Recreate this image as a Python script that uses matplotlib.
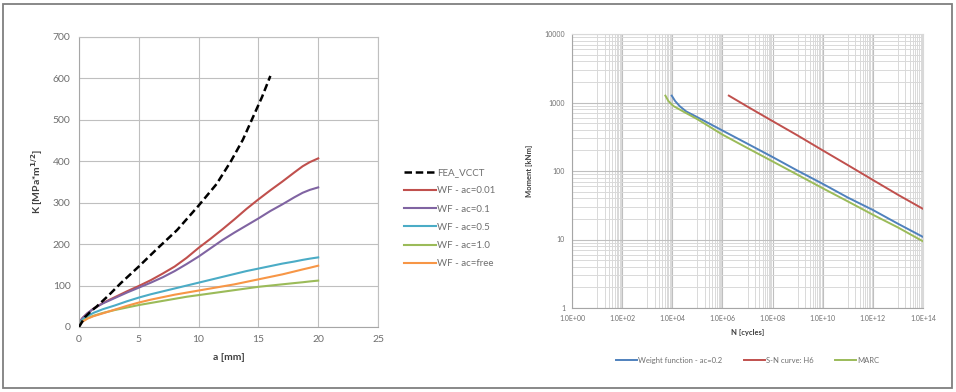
import numpy as np
import matplotlib
matplotlib.use("Agg")
import matplotlib.pyplot as plt
from matplotlib.patches import Rectangle
from matplotlib.ticker import FixedLocator, NullFormatter

plt.rcParams['font.family'] = ['Lato', 'DejaVu Sans']

# ---------------- Left chart data ----------------
fea_a = [0, 0.5, 1.0, 1.5, 2.5, 3.5, 5.0, 6.5, 8.2, 10.0, 11.5, 12.7, 13.7, 14.6, 15.3, 16.0]
fea_k = [0, 24, 38, 50, 77, 106, 146, 188, 234, 293, 345, 400, 452, 510, 555, 606]

wf_a = [0, 0.3, 0.7, 1.2, 2, 3, 4, 5, 6, 7, 8, 9, 10, 11, 12, 13, 14, 15, 16, 17, 18, 18.7, 19.3, 20]
wf001 = [10, 22, 33, 44, 58, 72, 86, 99, 113, 129, 146, 167, 191, 213, 236, 260, 285, 308, 330, 351, 373, 388, 398, 407]
wf01 = [10, 22, 33, 44, 57, 70, 83, 95, 107, 120, 135, 152, 170, 190, 210, 228, 245, 262, 280, 296, 313, 324, 331, 337]
wf05 = [8, 18, 26, 34, 43, 52, 62, 71, 79, 86, 93, 100, 107, 114, 121, 128, 135, 141, 147, 153, 158, 162, 165, 168]
wf10 = [6, 14, 21, 27, 34, 41, 47, 53, 58, 63, 68, 73, 77, 81, 85, 89, 93, 97, 100, 103, 106, 108, 110, 112]
wffree = [5, 13, 20, 26, 33, 42, 51, 59, 66, 72, 78, 83, 88, 93, 98, 103, 109, 115, 121, 127, 134, 139, 143, 148]

left_labels = ['FEA_VCCT', 'WF - ac=0.01', 'WF - ac=0.1', 'WF - ac=0.5', 'WF - ac=1.0', 'WF - ac=free']
left_colors = ['#000000', '#C0504D', '#8064A2', '#4BACC6', '#9BBB59', '#F79646']

# ---------------- Right chart data ----------------
wfn_N = [9.5e3, 1.3e4, 2e4, 3.6e4, 1e5, 1e6, 1e7, 1e8, 1e9, 1e10, 1e11, 1e12, 1e13, 1e14]
wfn_M = [1260, 1050, 880, 740, 610, 390, 250, 160, 101, 65, 41, 27, 17, 10.9]

sn_N = [1.8e6, 1e7, 1e8, 1e9, 1e10, 1e11, 1e12, 1e13, 1e14]
sn_M = [1260, 870, 535, 330, 200, 122, 74, 45, 28]

marc_N = [5.3e3, 7e3, 1.1e4, 2.7e4, 1e5, 1e6, 1e7, 1e8, 1e9, 1e10, 1e11, 1e12, 1e13, 1e14]
marc_M = [1260, 1050, 890, 740, 570, 340, 216, 138, 88, 56, 36, 23, 15, 9.4]

right_labels = ['Weight function - ac=0.2', 'S-N curve: H6', 'MARC']
right_colors = ['#4F81BD', '#C0504D', '#9BBB59']

W, H = 956, 392
fig = plt.figure(figsize=(W / 100, H / 100), dpi=100)
fig.patches.append(Rectangle((3 / W, 4 / H), 949 / W, 384 / H, transform=fig.transFigure,
                             fill=False, edgecolor='#7f7f7f', linewidth=1.3))

txtc = '#6f6f6f'
gridc = '#bfbfbf'

# ----- left axes -----
ax1 = fig.add_axes([79 / W, 1 - 327 / H, 299 / W, 290 / H])
series = [(fea_a, fea_k), (wf_a, wf001), (wf_a, wf01), (wf_a, wf05), (wf_a, wf10), (wf_a, wffree)]
for i, ((xa, ya), lab, col) in enumerate(zip(series, left_labels, left_colors)):
    if i == 0:
        ax1.plot(xa, ya, color=col, lw=1.8, ls=(0, (3, 1.5)), label=lab, zorder=5)
    else:
        ax1.plot(xa, ya, color=col, lw=1.5, label=lab)
ax1.set_xlim(0, 25)
ax1.set_ylim(0, 700)
ax1.set_xticks(range(0, 26, 5))
ax1.set_yticks(range(0, 701, 100))
ax1.grid(True, color=gridc, lw=0.8)
ax1.set_axisbelow(True)
for s in ax1.spines.values():
    s.set_color(gridc)
    s.set_linewidth(0.8)
ax1.spines['left'].set_color('#a6a6a6')
ax1.spines['bottom'].set_color('#a6a6a6')
ax1.tick_params(length=0, labelsize=7.5, colors=txtc, pad=6)
ax1.set_xlabel('a [mm]', fontsize=7.5, fontweight='bold', color='#404040', labelpad=6)
ax1.set_ylabel(r'K [MPa*m$^{\mathbf{1/2}}$]', fontsize=7.5, fontweight='bold', color='#404040', labelpad=6)
leg1 = ax1.legend(loc='center left', bbox_to_anchor=(1.07, 0.375), frameon=False, fontsize=7,
                  handlelength=3.3, handletextpad=0.1, labelspacing=0.95, borderpad=0)
for t in leg1.get_texts():
    t.set_color(txtc)

# ----- right axes -----
ax2 = fig.add_axes([572 / W, 1 - 308 / H, 351 / W, 274 / H])
for (xn, ym), lab, col in zip([(wfn_N, wfn_M), (sn_N, sn_M), (marc_N, marc_M)], right_labels, right_colors):
    ax2.plot(xn, ym, color=col, lw=1.4, label=lab)
ax2.set_xscale('log')
ax2.set_yscale('log')
ax2.set_xlim(1, 1e14)
ax2.set_ylim(1, 1e4)
ax2.xaxis.set_major_locator(FixedLocator([10.0 ** e for e in range(0, 15, 2)]))
ax2.set_xticklabels(['1.0E+%02d' % e for e in range(0, 15, 2)])
xminor = [10.0 ** e * m for e in range(1, 14, 2) for m in range(1, 10)]
ax2.xaxis.set_minor_locator(FixedLocator(xminor))
ax2.xaxis.set_minor_formatter(NullFormatter())
ax2.yaxis.set_major_locator(FixedLocator([1, 10, 100, 1000, 10000]))
ax2.set_yticklabels(['1', '10', '100', '1000', '10000'])
yminor = [10.0 ** e * m for e in range(0, 4) for m in range(2, 10)]
ax2.yaxis.set_minor_locator(FixedLocator(yminor))
ax2.yaxis.set_minor_formatter(NullFormatter())
ax2.grid(True, which='major', color='#bfbfbf', lw=0.8)
ax2.grid(True, which='minor', color='#d9d9d9', lw=0.7)
ax2.set_axisbelow(True)
for s in ax2.spines.values():
    s.set_color('#d9d9d9')
    s.set_linewidth(0.8)
ax2.spines['left'].set_color('#a6a6a6')
ax2.spines['bottom'].set_color('#a6a6a6')
ax2.tick_params(which='both', length=0, labelsize=5, colors=txtc, pad=5)
ax2.set_xlabel('N [cycles]', fontsize=5.5, fontweight='bold', color='#404040', labelpad=5)
ax2.set_ylabel('Moment [kNm]', fontsize=5.5, fontweight='bold', color='#404040', labelpad=8)
leg2 = ax2.legend(loc='upper center', bbox_to_anchor=(0.5, -0.165), ncol=3, frameon=False, fontsize=5.5,
                  handlelength=2.8, handletextpad=0.1, columnspacing=2.8, borderpad=0)
for t in leg2.get_texts():
    t.set_color(txtc)

fig.savefig('out.png', dpi=100)
